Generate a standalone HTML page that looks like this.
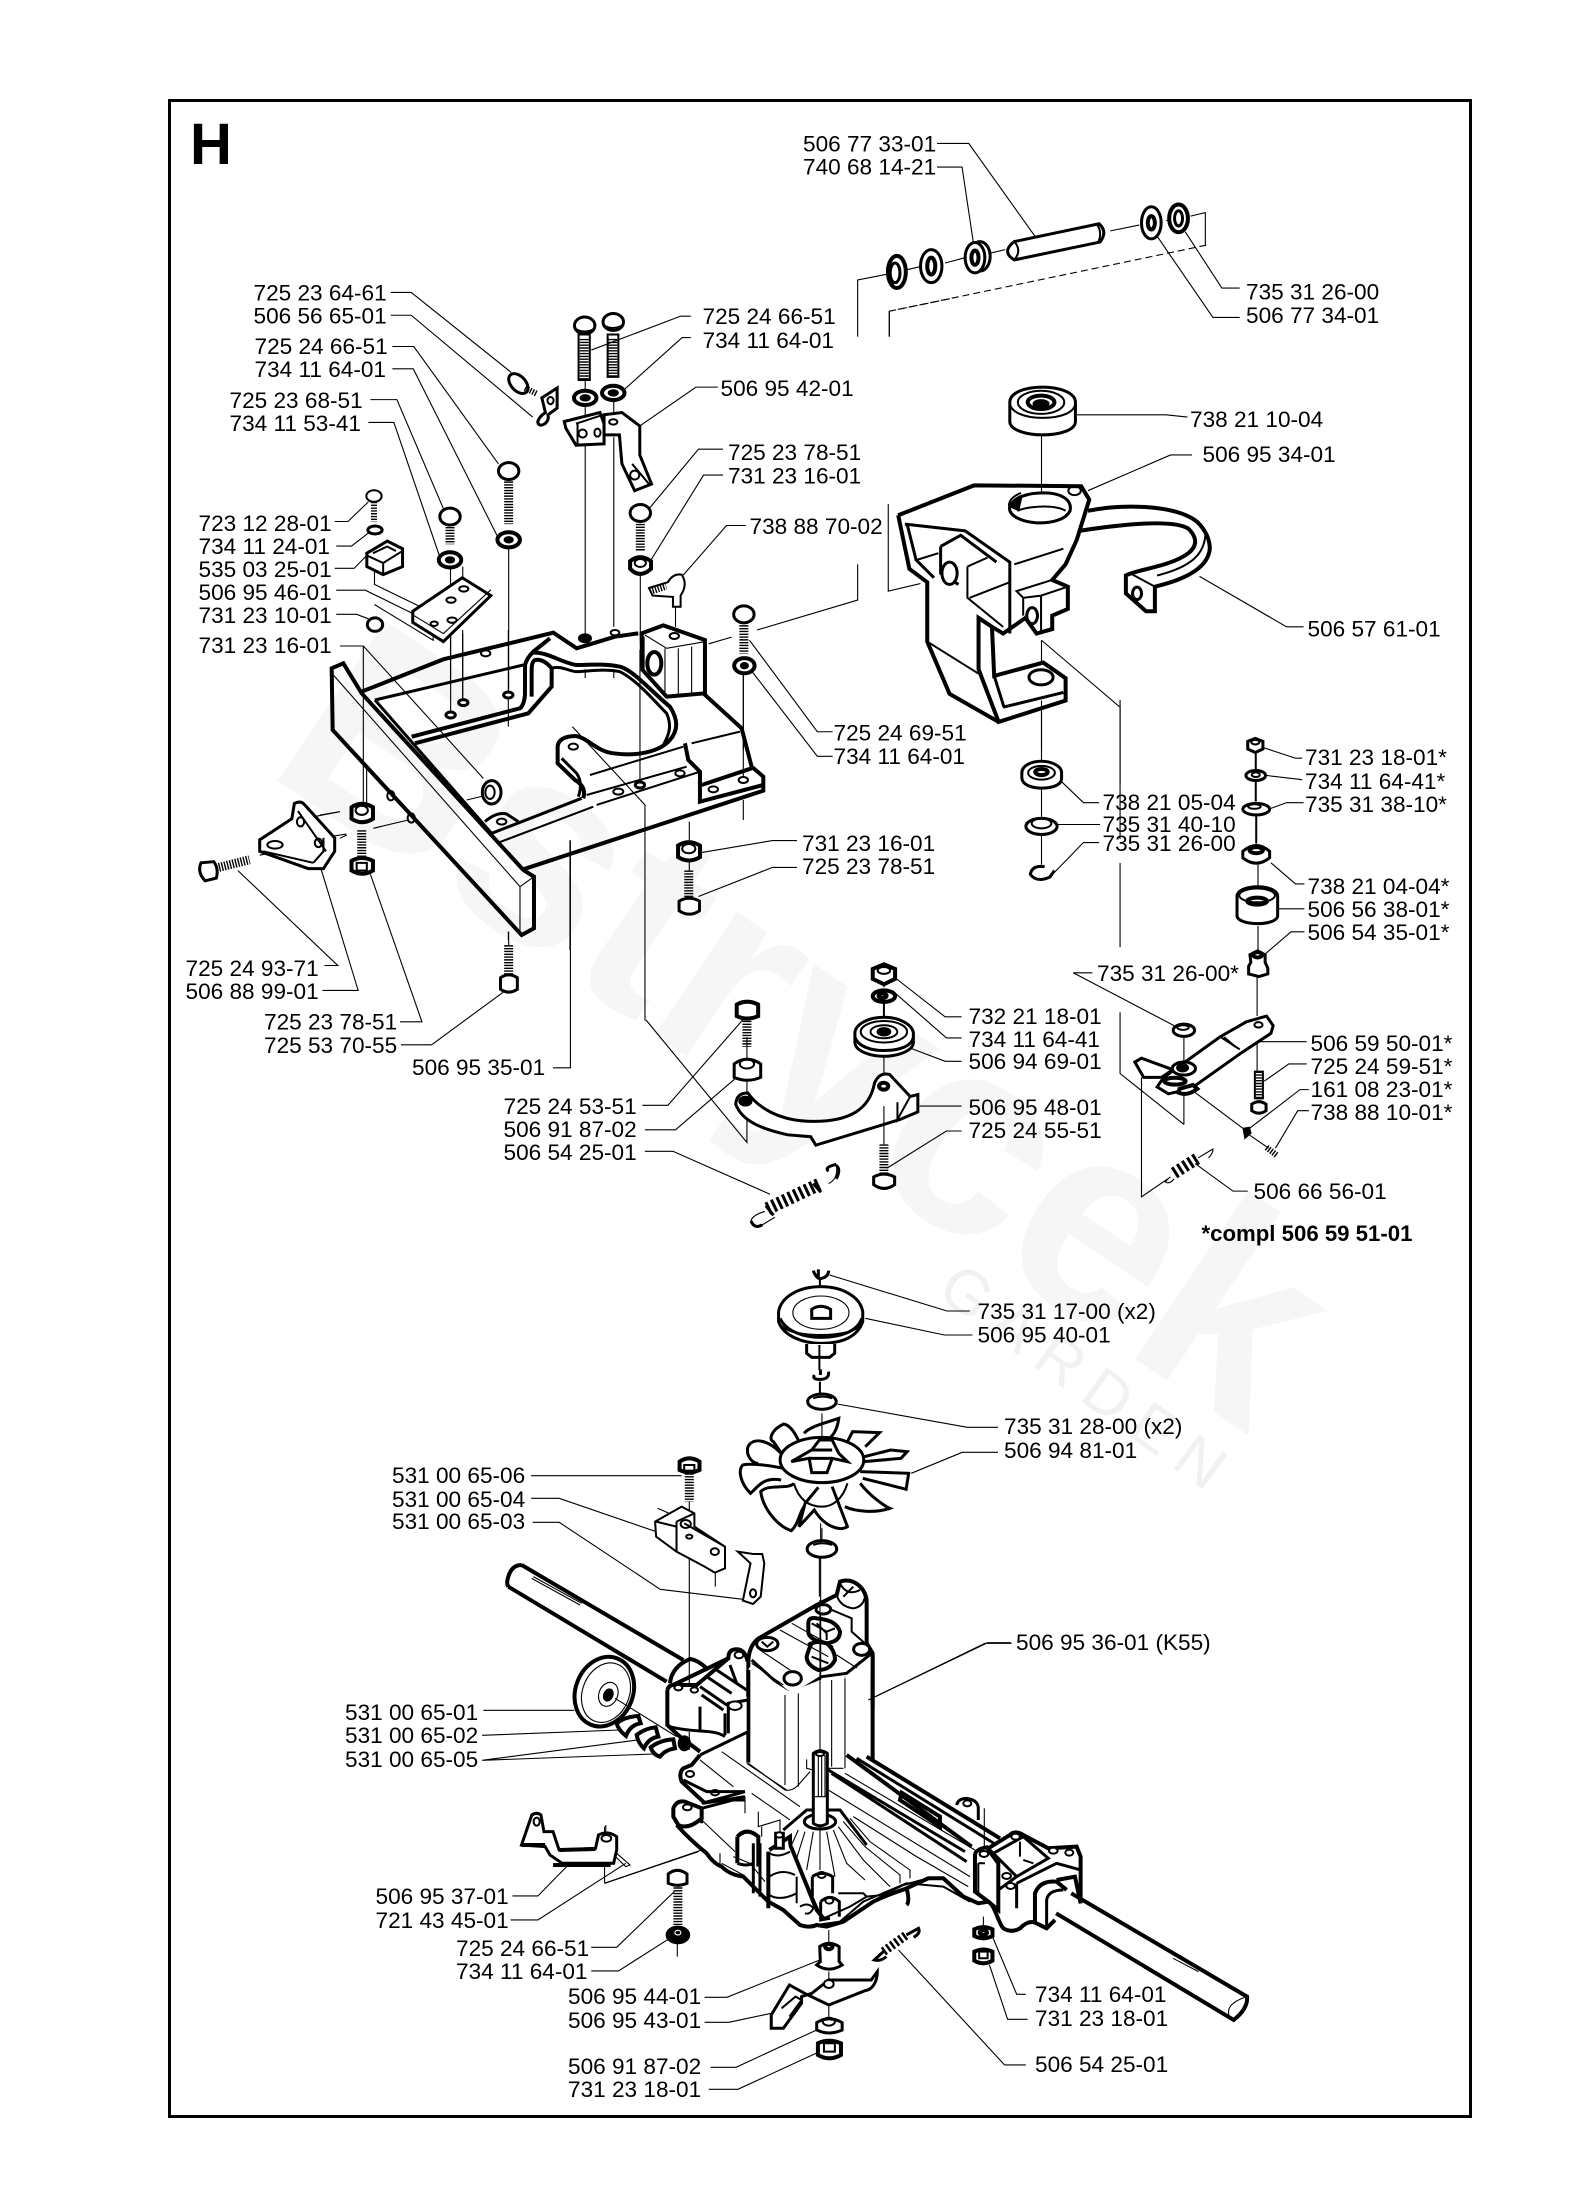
<!DOCTYPE html>
<html><head><meta charset="utf-8"><style>
html,body{margin:0;padding:0;background:#fff}
svg{display:block}
svg *{vector-effect:non-scaling-stroke}
svg{font-family:"Liberation Sans",sans-serif}
.L text{font-size:22.6px;fill:#000}
.L{font-size:22.6px}
g.a{fill:none;stroke:#000}
.t{stroke-width:1.1;fill:none}
.m{stroke-width:2;fill:none}
.k{stroke-width:3;fill:none}
.x{stroke-width:4;fill:none}
.w{fill:#fff}
.b{fill:#000}
.h{stroke-width:9;stroke-dasharray:1.4 1.4;fill:none}
.h2{stroke-width:6;stroke-dasharray:1.4 1.4;fill:none}
.d{stroke-dasharray:7 4}
</style></head><body>
<svg width="1572" height="2204" viewBox="0 0 1572 2204" xmlns="http://www.w3.org/2000/svg">
<rect width="1572" height="2204" fill="#fff"/>
<!-- watermark -->
<g fill="#f6f6f6" font-weight="bold">
<text transform="translate(262 770) rotate(34)" font-size="280" textLength="1190" lengthAdjust="spacingAndGlyphs">Bstrycek</text>
</g>
<text transform="translate(935 1295) rotate(36)" font-size="62" fill="#f1f1f1" letter-spacing="14">GARDEN</text>
<rect x="169.5" y="100.5" width="1301" height="2016" fill="none" stroke="#000" stroke-width="3"/>

<!-- frame, C9 coordinates -->
<g class="a" transform="translate(320 630) scale(.3333)">
<path class="x" d="M35 115L70 100L125 190L610 720L642 740V895L605 915L38 300Z"/>
<path class="t" d="M40 135L600 770V915M600 770L642 740"/>
<path class="x" d="M125 185L370 88L700 8L770 55L885 20L955 10"/>
<path class="k" d="M165 210L515 610L785 505M165 210L610 105"/>
<path class="x" d="M275 320L600 235Q612 225 615 195V105Q620 85 640 65L690 25"/>
<path class="x" d="M285 340L625 250L695 170V115Q670 85 645 90Q635 95 635 120V200"/>
<path class="x" d="M640 68C680 65 730 100 770 105C800 105 850 100 900 110C940 120 1000 190 1050 230C1075 270 1075 300 1050 330C1020 365 950 380 880 370C830 365 800 320 765 318Q715 320 713 350V400L765 450Q800 470 790 505"/>
<path class="k" d="M695 115C720 105 750 125 770 125C800 125 850 115 900 125C950 150 1000 210 1040 250C1055 285 1050 310 1030 345"/>
<path class="k" d="M725 385L770 430Q790 460 775 500M495 575Q530 545 560 552L595 575"/>
<ellipse class="m" cx="760" cy="350" rx="14" ry="9"/><ellipse class="m" cx="545" cy="575" rx="14" ry="9"/>
<ellipse class="m" cx="895" cy="485" rx="15" ry="9"/><ellipse class="k" cx="960" cy="465" rx="14" ry="9"/><ellipse class="m" cx="1080" cy="430" rx="14" ry="9"/><ellipse class="m" cx="1180" cy="478" rx="14" ry="9"/><ellipse class="m" cx="1270" cy="450" rx="14" ry="9"/>
<ellipse class="k" cx="392" cy="255" rx="14" ry="9"/><ellipse class="k" cx="430" cy="218" rx="14" ry="9"/><ellipse class="k" cx="565" cy="195" rx="14" ry="9"/><ellipse class="m" cx="497" cy="70" rx="14" ry="9"/><ellipse class="x b" cx="795" cy="25" rx="15" ry="9"/><ellipse class="m" cx="885" cy="8" rx="13" ry="8"/>
<!-- rear -->
<path class="x" d="M1150 190L1265 295L1295 410L1330 440V482L610 718"/>
<path class="x" d="M1095 340L1105 390L1140 425V515L1330 465M1145 465L1295 415"/>
<path class="m" d="M1115 340L1260 305M810 435L1090 350M800 495L1100 410M830 525L1140 425M530 640L820 530"/>
<!-- block -->
<path class="x w" d="M965 10L1030 -14L1155 30L1155 190L1040 200L968 120Z"/>
<path class="t" d="M1035 55V200M1075 55V195M1115 50V190M975 15L1040 55L1155 35"/>
<path class="x" d="M968 20V110"/>
<ellipse class="x w" cx="1003" cy="100" rx="21" ry="34"/>
<ellipse class="m" cx="1063" cy="18" rx="14" ry="9"/>
<!-- nut -->
<ellipse class="k w" cx="515" cy="487" rx="28" ry="35"/><ellipse class="m" cx="510" cy="487" rx="14" ry="20"/>
<!-- lines -->
<path class="t" d="M392 0V245M428 0V210M565 0V185M565 205V290M960 60V455M1270 125V440M1270 510V570M130 50V520M140 410V520M60 48H130L490 445M440 510L490 498M757 290L975 525V1172M750 630V960M1108 575V630M565 905V930M0 555L60 545M160 595L265 570M60 625L80 615"/>
</g>

<!-- axle / disc, C10 coordinates -->
<g class="a" transform="translate(490 1560) scale(.3333)">
<path class="x" d="M95 15L580 300M55 80L530 365M95 15Q65 15 55 50Q48 70 55 80"/>
<path class="t" d="M130 50L275 130M125 55L270 135"/>
<path class="x" d="M540 370Q545 320 600 297Q625 300 655 330"/>
<ellipse class="x w" cx="343" cy="395" rx="86" ry="107" transform="rotate(22 343 395)"/>
<ellipse class="t" cx="348" cy="398" rx="70" ry="92" transform="rotate(22 348 398)"/>
<ellipse class="t" cx="355" cy="403" rx="28" ry="37" transform="rotate(22 355 403)"/>
<ellipse class="b" cx="355" cy="405" rx="14" ry="19" transform="rotate(22 355 405)"/>
<path class="t" d="M375 415L560 530"/>
<path class="x w" d="M380 490Q405 470 445 468L452 490Q420 495 408 528Q385 510 380 490Z"/>
<path class="x w" d="M440 525Q465 505 497 502L505 530Q475 535 462 565Q445 550 440 525Z"/>
<path class="x w" d="M482 562Q510 540 550 538L555 565Q525 570 510 590Q490 585 482 562Z"/>
<ellipse class="x b" cx="583" cy="550" rx="14" ry="18"/>
</g>

<!-- C1 region -->
<g class="a" transform="translate(150 80) scale(.5102 .4464)">
<!-- assembly lines -->
<path class="t" d="M853 670V700M853 730V1240M853 1320V1340M909 715V745M909 800V1225M909 1320V1340M589 1090V1350M613 1090V1115M613 1240V1385M703 1045V1365M961 1110V1290M1030 1170V1225M1163 1325V1500"/>
<path class="t" d="M440 1100V1130L530 1180M440 1175L555 1255V1240"/>
<path class="t" d="M1387 575V448L1445 435M1449 575V518M1447 950V1145L1510 1128M1387 1085V1165L1190 1232M1140 1248L1095 1263"/>
<path class="t d" d="M1449 518L1568 490"/>

<!-- leaders -->
<path class="t" d="M472 476H512L708 655M472 527H512L750 755M475 597H517L683 860M475 647H516L680 1020M432 716H484L575 960M428 767H478L567 1065M362 989H388L428 945M365 1044H395L428 1015M362 1094H400L425 1065M365 1143H422L515 1195M365 1197H405L428 1207M1060 529H1040L865 605M1060 577H1043L928 695M1113 688H1070L960 775M1123 827H1075L980 958M1123 885H1085L982 1075M1168 998H1130L1043 1112M1338 1460H1308L1175 1255M1338 1515H1308L1180 1325"/>

<!-- screw & clip -->
<ellipse class="k w" cx="722" cy="680" rx="15" ry="25" transform="rotate(-35 722 680)"/>
<path class="h2" d="M735 690L758 703"/>
<path class="k w" d="M768 712L798 690V735L780 750C785 770 760 782 760 765C762 758 768 750 775 745Z"/>
<ellipse class="m" cx="785" cy="718" rx="6" ry="8"/>
<!-- top bolts -->
<path class="m" d="M840 570H862V672H840ZM897 570H918V665H897Z"/>
<path class="h" d="M851 580V672M907 580V665"/>
<ellipse class="k w" cx="852" cy="550" rx="20" ry="19"/><ellipse class="k w" cx="908" cy="542" rx="20" ry="19"/>
<path class="m" d="M832 556C845 566 860 566 872 556M888 548C900 558 915 558 928 548"/>
<ellipse class="x w" cx="853" cy="712" rx="22" ry="16"/><ellipse class="m b" cx="853" cy="712" rx="9" ry="6"/>
<ellipse class="x w" cx="908" cy="701" rx="22" ry="16"/><ellipse class="m b" cx="908" cy="701" rx="9" ry="6"/>
<!-- bracket 42-01 -->
<path class="k w" d="M812 765L882 745L890 770V815L835 818L815 780Z"/>
<path class="k w" d="M890 750L925 745L960 775V840L983 905L950 920L925 860L920 795L890 795Z"/>
<path class="m" d="M835 770L888 750M838 770V815M945 860L978 905"/>
<ellipse class="m" cx="848" cy="792" rx="8" ry="9"/><ellipse class="m" cx="877" cy="790" rx="6" ry="9"/><ellipse class="m" cx="908" cy="766" rx="8" ry="6"/><ellipse class="m" cx="950" cy="885" rx="9" ry="10"/>
<!-- 723 -->
<ellipse class="m w" cx="439" cy="932" rx="15" ry="13"/><path class="h2" d="M439 945V990"/>
<ellipse class="k w" cx="441" cy="1008" rx="14" ry="9"/>
<path class="k w" d="M425 1060L465 1033L495 1050V1090L457 1108L425 1090Z"/>
<path class="m" d="M425 1065L457 1082L495 1055M457 1082V1108M437 1060L465 1045L482 1055"/>
<ellipse class="k w" cx="441" cy="1220" rx="15" ry="15"/>
<path class="k w" d="M515 1190L612 1115L668 1155L575 1258L515 1215Z"/>
<path class="t" d="M515 1198L575 1240L668 1142"/>
<ellipse class="m" cx="615" cy="1140" rx="9" ry="6"/><ellipse class="m" cx="590" cy="1165" rx="9" ry="6"/><ellipse class="m" cx="592" cy="1210" rx="9" ry="6"/><ellipse class="m" cx="557" cy="1218" rx="7" ry="5"/>
<!-- 68-51 -->
<path class="h" d="M588 995V1040"/><ellipse class="k w" cx="588" cy="978" rx="20" ry="19"/>
<ellipse class="x w" cx="588" cy="1075" rx="22" ry="17"/><ellipse class="m b" cx="588" cy="1075" rx="8" ry="6"/>
<!-- 66-51 left -->
<path class="h" d="M703 893V995"/><ellipse class="k w" cx="703" cy="876" rx="20" ry="19"/>
<ellipse class="x w" cx="703" cy="1030" rx="22" ry="17"/><ellipse class="m b" cx="703" cy="1030" rx="8" ry="6"/>
<!-- 78-51 -->
<path class="h" d="M961 988V1055"/><ellipse class="k w" cx="961" cy="970" rx="20" ry="19"/>
<path class="x w" d="M941 1078Q960 1060 982 1078V1095Q960 1118 941 1095Z"/><ellipse class="m" cx="961" cy="1082" rx="11" ry="9"/>
<!-- grease nipple -->
<path class="m w" d="M978 1138L1015 1125Q1025 1105 1042 1108Q1055 1130 1040 1155V1180H1025V1158L985 1155Z"/>
<path class="h2" d="M985 1145L1012 1135"/>
<!-- 69-51 -->
<path class="h" d="M1164 1215V1285"/><ellipse class="k w" cx="1164" cy="1197" rx="20" ry="19"/>
<ellipse class="x w" cx="1165" cy="1312" rx="20" ry="17"/><ellipse class="m b" cx="1165" cy="1312" rx="7" ry="6"/>
</g>

<!-- C2 region -->
<g class="a" transform="translate(800 80) scale(.4464 .4464)">
<path class="t" d="M307 142H378L537 365M307 195H363L388 362M863 340L945 466H985M800 350L925 532H985M618 750H820L868 755M645 920L830 840H878M895 1112L1090 1225H1128"/>
<path class="t" d="M240 425L270 418M325 410L370 398M425 388L460 380M695 338L760 325M820 315L830 313M875 305L908 297V370"/>
<path class="t d" d="M910 370L200 518"/>
<path class="t" d="M200 518V575M541 795V975M541 1255V1305M541 1390V1500M541 1255L717 1405V1700"/>
<!-- circlips/washers -->
<ellipse class="x" cx="217" cy="430" rx="20" ry="36"/><ellipse class="k" cx="213" cy="432" rx="11" ry="22"/>
<ellipse class="k" cx="294" cy="417" rx="24" ry="37"/><ellipse class="x" cx="294" cy="417" rx="9" ry="19"/>
<ellipse class="k w" cx="403" cy="395" rx="23" ry="33"/><ellipse class="k w" cx="392" cy="398" rx="22" ry="34"/><ellipse class="x" cx="392" cy="398" rx="8" ry="16"/>
<path class="k w" d="M480 362L670 322Q690 340 672 363L480 403Q450 385 480 362Z"/>
<path class="m" d="M480 362Q498 382 480 403M665 323Q678 342 668 363"/>
<ellipse class="k w" cx="787" cy="320" rx="22" ry="36"/><ellipse class="x" cx="787" cy="320" rx="8" ry="15"/>
<ellipse class="x" cx="848" cy="310" rx="21" ry="31"/><ellipse class="k" cx="848" cy="310" rx="9" ry="17"/>
<!-- bearing -->
<path class="k w" d="M470 722V765C470 785 510 795 543 795C580 795 617 785 617 765V722C617 700 580 688 543 688C505 688 470 700 470 722Z"/>
<path class="m" d="M470 722C470 745 505 757 543 757C585 757 617 745 617 722"/>
<ellipse class="m" cx="540" cy="722" rx="52" ry="26"/><ellipse class="x" cx="540" cy="722" rx="30" ry="15"/><ellipse class="b" cx="540" cy="725" rx="18" ry="9"/>
<!-- main bracket -->
<path class="x" d="M220 975L390 908L630 910L648 940L620 1030L595 1085L565 1120L600 1135V1185L565 1200V1230L530 1240L505 1205L455 1240L430 1225L400 1205V1320L445 1438L595 1390V1340L545 1305L435 1335L430 1225"/>
<path class="x" d="M220 975L245 1095L285 1125V1258L335 1375L445 1438"/>
<path class="k" d="M235 995L370 1010L470 1080V1240"/>
<path class="k" d="M240 995L260 1075L300 1115M315 1045L360 1020L440 1080M315 1045V1105L355 1130"/>
<path class="m" d="M375 1090V1160L455 1225M380 1160L470 1125M480 1085L590 1050M262 1075L310 1060M375 1090L420 1070M285 1258L400 1330"/>
<ellipse class="k w" cx="335" cy="1105" rx="17" ry="25"/>
<path class="k w" d="M470 955C480 935 510 925 545 925C585 925 610 940 605 965C595 985 565 993 530 992C495 990 465 975 470 955Z"/>
<path class="m" d="M487 965C510 955 570 950 595 965M495 925C470 935 465 950 470 958"/>
<path class="b" d="M468 955Q478 935 498 930L490 965Z"/>
<ellipse class="m" cx="615" cy="920" rx="14" ry="10"/>
<path class="m" d="M485 1145L565 1120L600 1135L540 1155L500 1160ZM500 1160V1200M540 1155V1235"/>
<ellipse class="k" cx="520" cy="1200" rx="12" ry="18"/>
<ellipse class="k" cx="540" cy="1338" rx="27" ry="17"/>
<path class="k" d="M455 1405L590 1372M435 1335L457 1405"/>
<!-- strap -->
<path class="x" d="M645 965C720 950 840 950 890 990C910 1010 918 1030 918 1050C915 1085 880 1115 795 1135V1190L775 1190L730 1150V1110C760 1095 830 1090 870 1060C895 1040 885 1020 870 1005C830 980 690 1000 625 1010"/>
<path class="m" d="M745 1108L795 1135M908 1020C905 1060 880 1090 800 1110"/>
<ellipse class="k" cx="755" cy="1150" rx="10" ry="14"/>
</g>

<!-- C3 region -->
<g class="a" transform="translate(150 700) scale(.5102 .3831)">
<path class="t" d="M342 693H368L172 445M338 758H408L335 440M490 840H533L432 455M492 900H552L695 760M790 960H824V368M965 1058H1015L1165 830M970 1122H1030L1150 985M970 1178H1025L1215 1290M1268 367H1220L1082 398M1268 437H1220L1075 513"/>
<path class="t" d="M972 835L1170 1155V1060M320 305L370 292M360 355L385 350M215 405L330 375M703 605V640M1057 420V445M1170 990V1030M1170 880V935"/>
<!-- bracket 88-99 -->
<path class="k w" d="M283 270Q295 262 302 272L362 360V395L340 440L310 440L215 395V365L278 310Z"/>
<path class="m" d="M290 290L345 395M222 395L320 425M320 425L340 395V360"/>
<ellipse class="m" cx="245" cy="378" rx="15" ry="10"/><ellipse class="m" cx="295" cy="318" rx="7" ry="12"/><ellipse class="m" cx="330" cy="373" rx="7" ry="11"/>
<path class="h" d="M135 437L195 417"/>
<path class="k w" d="M100 425L125 422Q135 440 130 465L108 472Q92 450 100 425Z"/>
<!-- nut+bolt -->
<path class="x w" d="M395 280Q415 262 437 280V310Q415 328 395 310Z"/><ellipse class="m" cx="415" cy="288" rx="12" ry="12"/>
<path class="h" d="M415 340V412"/>
<path class="x w" d="M395 420Q415 405 437 420V445Q415 462 395 445Z"/><path class="m" d="M405 425H425V445H405Z"/>
<ellipse class="m" cx="512" cy="308" rx="7" ry="12"/><ellipse class="m" cx="472" cy="250" rx="7" ry="12"/>
<path class="h" d="M703 640V720"/>
<path class="k w" d="M687 725Q703 710 720 725V755Q703 770 687 755Z"/>
<path class="x w" d="M1035 380Q1056 362 1078 380V410Q1056 428 1035 410Z"/><ellipse class="m" cx="1056" cy="388" rx="13" ry="12"/>
<path class="h" d="M1056 445V520"/>
<path class="k w" d="M1037 525Q1057 510 1077 525V550Q1057 568 1037 550Z"/>
<!-- 53-51 bolt + spacer -->
<path class="h" d="M1170 830V905"/><path class="x w" d="M1150 795Q1170 780 1192 795V825Q1170 838 1150 825Z"/>
<path class="k w" d="M1145 950Q1170 925 1197 950V985Q1170 1000 1145 985Z"/><ellipse class="m" cx="1170" cy="950" rx="14" ry="12"/>
<!-- arm 48-01 -->
<path class="k w" d="M1148 1055Q1150 1025 1172 1026C1190 1060 1230 1100 1300 1100C1370 1100 1410 1070 1420 1000Q1430 970 1450 978L1490 1035L1505 1030V1075L1470 1095L1305 1162L1295 1140L1250 1135C1200 1120 1160 1100 1148 1055Z"/>
<path class="m" d="M1465 1050V1095L1490 1035"/>
<ellipse class="x b" cx="1167" cy="1047" rx="10" ry="9"/><ellipse class="x" cx="1438" cy="1008" rx="9" ry="9"/>
<!-- spring -->
<path class="t" d="M1330 1262Q1350 1250 1345 1212M1205 1335Q1180 1345 1178 1360Q1185 1380 1200 1370L1225 1350"/>
<path stroke-width="13" stroke-dasharray="3 3" d="M1210 1328L1315 1262"/>
<path class="k" d="M1345 1212Q1320 1220 1330 1230M1207 1320L1222 1345M1300 1262L1315 1285"/>
<path class="k" d="M1345 1215Q1355 1225 1345 1250M1178 1360Q1185 1382 1200 1370"/>
</g>

<!-- C4 region -->
<g class="a" transform="translate(800 700) scale(.4464 .3831)">
<path class="t" d="M583 210L635 268H670M575 325H672M570 450L635 372H670M541 30V165M541 228V305M541 350V430M717 0V220M717 425V645M717 815V975L860 1108M860 880V945M860 1030V1108M612 712L838 850M612 712H655"/>
<path class="t" d="M1040 125L1110 152H1125M1045 197L1125 208M1055 283L1090 268H1128M1055 425L1110 480H1130M1070 545H1130M1040 665L1100 605H1130M1030 892H1135M1040 995L1095 950H1135M1005 1120L1120 1017H1140M1065 1170L1115 1072H1140M885 1210L970 1282H1003"/>
<path class="t" d="M213 725L325 827H362M213 765L328 882H362M250 910L325 943H362M268 1060H362M195 1222L328 1125H362M188 740V750M188 930V975M188 1060V1160"/>
<path class="t" d="M1024 720V825M1024 885V970M765 985V1297L830 1245M880 1020L1000 1125M1000 1130L1050 1170M1026 430V490M1026 590V655"/>
<path class="m" d="M1021 140V185M1021 210V265M1022 300V375M188 790V830"/>
<!-- 05-04 bearing -->
<path class="k w" d="M497 190V205C500 225 525 230 541 230C560 230 585 225 586 205V190C586 170 560 160 541 160C520 160 497 170 497 190Z"/>
<ellipse class="m" cx="541" cy="190" rx="30" ry="18"/><ellipse class="x" cx="541" cy="188" rx="14" ry="8"/>
<ellipse class="k" cx="541" cy="330" rx="35" ry="21"/><ellipse class="m" cx="541" cy="322" rx="22" ry="13"/>
<path class="k" d="M548 435Q520 430 516 455Q530 478 560 462L570 445"/>
<!-- top stack -->
<path class="k w" d="M1003 108L1020 100L1037 108V128L1020 137L1003 128Z"/><ellipse class="m" cx="1020" cy="110" rx="9" ry="6"/>
<ellipse class="k w" cx="1021" cy="197" rx="22" ry="13"/><ellipse class="m" cx="1021" cy="195" rx="9" ry="6"/>
<ellipse class="k w" cx="1022" cy="285" rx="30" ry="15"/><ellipse class="m" cx="1018" cy="278" rx="14" ry="6"/>
<path class="k w" d="M992 395V412Q1022 440 1052 412V395Q1022 365 992 395Z"/><ellipse class="x" cx="1022" cy="392" rx="15" ry="8"/>
<path class="k w" d="M979 510V565C985 590 1065 590 1070 565V510C1065 480 985 480 979 510Z"/><ellipse class="m" cx="1024" cy="510" rx="40" ry="18"/><ellipse class="x" cx="1024" cy="525" rx="22" ry="9"/>
<path class="k w" d="M1008 665L1025 655L1042 665V685L1048 700V715L1028 722L1005 715V695L1010 685Z"/><ellipse class="x" cx="1025" cy="665" rx="10" ry="7"/>
<!-- arm -->
<path class="k w" d="M750 945L765 935L835 965L810 985L770 985Z"/>
<path class="k w" d="M1000 840L1045 825L1060 850L1055 870L990 920L875 1015L825 1028L800 1010L815 985L940 880Z"/>
<path class="m" d="M940 878L985 912M950 880L975 905"/>
<ellipse class="m" cx="1027" cy="848" rx="9" ry="7"/>
<ellipse class="k w" cx="860" cy="962" rx="26" ry="17"/><ellipse class="x b" cx="857" cy="960" rx="10" ry="7"/>
<ellipse class="x" cx="840" cy="995" rx="24" ry="9"/>
<path class="x w" d="M848 1025Q868 1035 890 1015L880 1005L850 1015Z"/>
<ellipse class="k w" cx="860" cy="862" rx="24" ry="16"/><ellipse class="m" cx="858" cy="855" rx="13" ry="6"/>
<path class="h2" d="M1028 970V1040"/>
<path class="m" d="M1019 970H1037V1040H1019Z"/>
<path class="k w" d="M1012 1055Q1028 1042 1044 1055V1072Q1028 1085 1012 1072Z"/>
<path class="k b" d="M995 1120L1005 1118L1008 1130L998 1140Z"/>
<path class="h2" d="M1045 1168L1070 1190"/>
<!-- spring small -->
<path stroke-width="12" stroke-dasharray="3 3" d="M838 1235L892 1195"/>
<path class="t" d="M825 1250L818 1258Q828 1265 838 1250M892 1195L925 1172Q925 1185 915 1195"/>
<!-- 732 stack -->
<path class="x w" d="M163 702L188 690L213 702V728L188 742L163 728Z"/><ellipse class="m" cx="188" cy="706" rx="14" ry="9"/>
<ellipse class="x w" cx="188" cy="773" rx="25" ry="15"/><ellipse class="x" cx="185" cy="772" rx="9" ry="6"/>
<path class="k w" d="M123 868V895C125 918 160 930 188 930C215 930 252 918 254 895V868C250 845 220 828 188 828C155 828 125 845 123 868Z"/>
<path class="k" d="M123 880C130 905 160 915 188 915C220 915 250 905 254 880"/>
<ellipse class="m" cx="188" cy="866" rx="52" ry="28"/><ellipse class="m" cx="188" cy="866" rx="30" ry="17"/><ellipse class="x b" cx="188" cy="866" rx="12" ry="7"/>
<path class="h" d="M188 1160V1235"/>
<path class="k w" d="M165 1245Q188 1230 212 1245V1265Q188 1285 165 1265Z"/>
</g>

<!-- C5 region -->
<g class="a" transform="translate(350 1250) scale(.5102 .3333)">
<path class="t" d="M940 75L1170 183H1215M1010 205L1165 255H1220M955 462L1210 532H1270M1100 670L1200 607H1270M355 677H650M355 745H410L600 845M358 817H410L608 1018L770 1048M1295 1178H1250L1030 1340"/>
<path class="t" d="M925 490V570M925 835V870M920 925V1040M665 755V1500M603 775L625 790M716 968V1010"/>
<path class="m" d="M921 85V165M920 320V360M921 395V430"/>
<!-- clip -->
<path class="k" d="M908 62Q915 90 925 85Q938 80 938 62M918 58V80"/>
<!-- pulley -->
<path class="k w" d="M840 185V215C850 260 890 280 923 280C965 280 995 260 1005 215V185C1000 140 965 110 923 110C880 110 845 140 840 185Z"/>
<path class="k" d="M843 205C855 245 890 262 923 262C960 262 995 245 1003 205"/>
<path class="m" d="M845 225C860 265 985 265 1000 225"/>
<ellipse class="t" cx="923" cy="188" rx="55" ry="50"/>
<path class="k w" d="M905 178Q922 160 942 178V205H905Z"/>
<path class="k w" d="M895 282V310L905 322H940L950 310V282"/>
<path class="m" d="M920 285V320"/>
<path class="k" d="M910 375Q905 390 925 388Q940 385 938 365M922 358V375"/>
<ellipse class="k" cx="925" cy="455" rx="28" ry="23"/><path class="m" d="M908 445Q925 435 945 445"/>
<!-- fan -->
<g class="k">
<path d="M890 550C900 530 930 520 958 505C955 540 945 570 925 575"/>
<path d="M880 575C870 540 860 525 850 522C825 540 820 570 830 575L850 620"/>
<path d="M975 575L985 545L1038 548L1010 590"/>
<path d="M1008 620L1060 600L1092 605L1080 625L1008 635"/>
<path d="M1000 665L1095 670L1090 718L1005 685"/>
<path d="M1000 700C1020 740 1050 770 1058 775C1030 790 990 785 970 770"/>
<path d="M945 710L975 830C960 845 930 830 910 780L880 830L892 760L918 712"/>
<path d="M870 700C860 720 820 700 805 725C810 780 840 830 865 842C880 820 880 790 890 770"/>
<path d="M845 690C810 680 800 710 785 730C765 700 760 660 770 645C785 640 820 645 850 655"/>
<path d="M845 610C820 570 790 560 780 590C775 620 790 640 800 640"/>
</g>
<ellipse class="k w" cx="925" cy="630" rx="82" ry="68"/>
<path class="k" d="M905 600L920 570H945L958 610L975 635L945 625L935 668H905L900 625L865 635ZM905 600H945M900 625H945"/>
<path class="m" d="M870 700C880 750 900 770 925 770M975 700C965 750 945 770 925 770"/>
<ellipse class="k" cx="925" cy="897" rx="29" ry="25"/><path class="m" d="M908 885Q925 875 945 885"/>
<!-- 65 bolt -->
<path class="h" d="M665 670V755"/><path class="x w" d="M646 635Q665 615 685 635V660Q665 675 646 660Z"/><path class="m" d="M655 645H675V662H655Z"/>
<!-- 65-04 -->
<path class="m w" d="M598 815L650 770L675 790V830L735 890V955L715 968L695 950L640 905L600 860Z"/>
<path class="m" d="M640 815L675 790M640 815V905M655 820L735 890M600 815L640 830"/>
<ellipse class="m" cx="658" cy="822" rx="10" ry="12"/><ellipse class="m" cx="715" cy="905" rx="8" ry="10"/><ellipse class="m" cx="665" cy="860" rx="6" ry="6"/>
<path class="m w" d="M760 905L790 912H808L812 940L805 1040L790 1062L770 1052L785 940Z"/>
<ellipse class="m" cx="790" cy="1030" rx="6" ry="12"/>
</g>

<!-- C8 upper housing -->
<g class="a" transform="translate(680 1500) scale(.3333)">
<path class="x w" d="M215 470Q220 425 245 410L410 315L470 285L480 245Q510 235 535 255L560 290V430L578 460V620H205Z" stroke="none" fill="#fff"/>
<path class="x" d="M205 610V490Q205 430 245 410L410 315L470 285L480 245Q510 235 535 255Q555 270 560 300V430L578 460V620"/>
<path class="k" d="M215 480L315 570Q340 590 370 565L425 530L500 520L575 460"/>
<path class="m" d="M470 285Q480 320 520 325Q550 320 555 290M480 250Q500 290 540 270M490 290L520 260M420 315L515 355V395L555 430"/>
<path class="t" d="M335 370L460 440M300 390L445 470M240 450L330 510M215 490L310 555M470 465L540 510M355 590V620M495 530V620M422 70V130M422 170V620"/>
<path class="x" d="M385 370Q385 350 410 355Q470 360 480 395Q480 425 440 430Q385 420 385 395Z"/>
<path class="m" d="M395 370L440 395L465 385M410 370L440 400V420"/>
<path class="x" d="M385 435Q410 420 440 430Q465 450 465 480Q450 510 415 510Q380 495 380 470Q385 450 395 430"/>
<path class="m" d="M395 470L445 490"/>
<ellipse class="k w" cx="262" cy="432" rx="32" ry="20"/><path class="m" d="M245 425L262 440L280 425"/>
<ellipse class="k w" cx="430" cy="328" rx="22" ry="14"/>
<ellipse class="k w" cx="545" cy="448" rx="24" ry="18"/>
<ellipse class="k w" cx="338" cy="535" rx="26" ry="20"/>
</g>

<!-- C7 transmission -->
<g class="a" transform="translate(650 1600) scale(.3333)">
<!-- tower -->
<path class="x w" d="M295 210V490L410 570Q430 575 440 560L470 530L580 505V465L650 470L665 165V170L585 232L510 240L460 260Q430 280 410 270L300 200Z" stroke="none"/>
<path class="x" d="M295 210V488M668 165V478"/>
<path class="t" d="M405 285V555M445 280V560M585 235V505M545 240V500M655 300L1005 130H1085M295 490L405 570Q425 575 445 555L480 515"/>
<path class="t" d="M470 478V505L490 510M580 505L530 505"/>
<!-- small housing -->
<path class="x" d="M55 262L235 175Q235 150 255 148Q285 145 293 185"/>
<path class="k w" d="M52 270Q58 252 75 255L140 258Q160 280 220 310L240 305L290 290V395L230 420L210 400Q130 395 60 395L52 375Z" stroke="none"/>
<path class="x" d="M52 270Q58 252 75 255H140L235 175M52 270V375L90 410L150 455"/>
<path class="k" d="M150 260L235 318M155 285L220 330M295 300L235 310V400M150 320V390M225 340V405M60 380C130 400 190 385 225 410"/>
<path class="k" d="M170 230L245 280M200 210L290 270M240 195L260 250"/>
<ellipse class="m w" cx="85" cy="263" rx="12" ry="8"/><ellipse class="m w" cx="133" cy="270" rx="11" ry="8"/><ellipse class="m w" cx="267" cy="165" rx="13" ry="10"/><ellipse class="m w" cx="255" cy="317" rx="20" ry="13"/>
<path class="k" d="M150 465L295 395"/>
<!-- body -->
<path class="x" d="M150 465L125 495L100 505Q85 520 95 545L165 610"/>
<path class="k" d="M100 540L170 575L285 575M285 575L155 610M160 610L285 590"/>
<path class="t" d="M150 480L250 560M215 455L450 620M305 580L420 660M290 490L410 570M285 590V640M325 635V680L390 660V700M335 680V710"/>
<ellipse class="m" cx="120" cy="522" rx="12" ry="9"/><ellipse class="m" cx="195" cy="578" rx="12" ry="8"/>
<path class="x" d="M70 625Q80 600 105 605L155 625V655Q115 690 85 675L70 650Z"/>
<path class="k" d="M155 625L250 600L285 600M155 655V670"/>
<ellipse class="m" cx="112" cy="622" rx="13" ry="9"/>
<path class="x" d="M80 675Q120 720 170 760Q190 790 215 800Q240 825 280 830Q320 870 355 905L400 930L450 975Q480 985 500 975L530 980L580 965L670 905C720 880 760 870 770 865Q780 905 770 915M770 865L835 835H880L940 890L985 910L1015 905C1035 915 1045 970 1060 985Q1085 1000 1110 985Q1135 960 1155 968L1190 985L1215 960"/>
<path class="m" d="M510 960L600 920L650 890L700 885L760 855L835 835M500 975L570 965L640 905L710 875L770 850L880 860L960 905"/>
<path class="t" d="M155 660L255 755M210 760V800M215 790L280 825M250 770L300 790L345 845"/>
<!-- cylinders -->
<path class="x" d="M262 710Q290 680 325 710V800M262 710V790"/>
<path class="k" d="M262 790Q290 800 310 790M310 730V880M330 730V890"/>
<path class="x" d="M355 755V925M358 750L420 710Q420 740 425 745L500 930L520 955"/>
<path class="m" d="M358 760Q385 775 420 755M358 830Q395 805 435 825M358 885Q390 905 440 880M440 830V910M420 740L505 930"/>
<path class="k w" d="M377 700H400V745H377Z"/><ellipse class="m w" cx="388" cy="705" rx="11" ry="8"/>
<path class="k" d="M487 830Q515 810 548 830V880M487 830V890"/>
<ellipse class="m" cx="515" cy="825" rx="12" ry="9"/>
<path class="k" d="M512 905Q540 880 568 905V950M512 905V960L540 955"/>
<ellipse class="m" cx="538" cy="902" rx="12" ry="9"/>
<path class="m" d="M565 880H640L650 890M450 920Q475 905 490 925Q480 945 465 940"/>
<!-- stud cone -->
<path class="k" d="M400 690L470 630H570L650 735"/>
<ellipse class="k w" cx="510" cy="665" rx="47" ry="22"/>
<path class="k w" d="M490 460Q510 445 532 460V670Q510 685 490 670Z"/>
<path class="t" d="M505 465V590M515 465V590M525 465V590M490 590H532"/>
<ellipse class="m" cx="510" cy="462" rx="12" ry="6"/>
<path class="t" d="M510 0V450M445 690L420 745M465 695L440 775M490 695L470 810M510 690V810M530 695L555 830M550 690L590 790L645 840M565 680L640 780L720 860M580 665L645 740L750 825L750 850M600 655L660 725L780 810L780 835M610 650L800 770L955 860"/>
<!-- rails -->
<path class="k" d="M535 510L945 755M545 520L950 785"/>
<path class="t" d="M585 520L975 750M535 570L960 830"/>
<path class="x" d="M590 465L965 740M650 470L1050 715"/>
<path class="k" d="M620 475L1040 735"/>
<path class="x" d="M755 578L870 650V680L750 600Z"/>
<path class="k w" d="M920 615Q925 595 950 595Q985 600 985 625V660"/>
<ellipse class="m" cx="952" cy="610" rx="12" ry="9"/>
<path class="t" d="M1003 625V745"/>
<!-- right housing -->
<path class="x" d="M1015 745L1080 705Q1095 690 1120 705L1195 745L1280 740L1292 770V910L1275 830L1220 840"/>
<path class="x" d="M975 760Q985 745 1010 742L1045 790V930L1015 905M975 760V875L1015 905"/>
<path class="k" d="M1015 745L1100 830L1195 775L1120 710L1030 760M1100 830L1045 870"/>
<path class="m" d="M985 790L1005 790M985 790V880M1110 725V770M1120 780L1150 790"/>
<path class="k" d="M1100 850V925M1100 850L1220 790L1292 810"/>
<ellipse class="m w" cx="1002" cy="762" rx="13" ry="9"/><ellipse class="m w" cx="1097" cy="710" rx="13" ry="9"/><ellipse class="m w" cx="1210" cy="752" rx="13" ry="9"/><ellipse class="m w" cx="1258" cy="758" rx="12" ry="9"/><ellipse class="m w" cx="1070" cy="828" rx="13" ry="9"/><ellipse class="m w" cx="1082" cy="858" rx="13" ry="9"/>
<path class="x" d="M1155 970V880Q1170 840 1220 845L1250 870"/>
<path class="k" d="M1190 980V900Q1195 870 1240 870"/>
</g>

<!-- C6 lower parts -->
<g class="a" transform="translate(350 1650) scale(.6061 .3333)">
<!-- right axle -->
<path class="x" d="M1190 730L1480 1040Q1482 1075 1458 1110L1165 790"/>
<path class="t" d="M1480 1040Q1445 1060 1450 1095M1358 925L1400 965"/>
<path class="t" d="M220 181H370M218 256L445 240M218 331L475 270M218 331L500 312M268 738H310L360 645M265 810H310L455 640M420 700V530M420 700L580 600M398 892H440L535 725M398 963H443L525 868M540 920V880M585 1042H622L775 930M585 1117H625L695 1090M595 1252H637L770 1140M592 1318H640L775 1205M1115 1033H1100L1060 860M1118 1108H1085L1055 945M1115 1245H1080L905 900"/>
<path class="t" d="M420 700L575 605M790 840V880M790 965V990M790 1060V1100M1045 800V830"/>
<!-- 37-01 -->
<path class="k w" d="M283 585L300 495Q308 485 315 495L320 545H335L345 600L405 595L410 555Q425 540 440 560V600L435 640H350L330 615L322 590L283 585Z"/>
<path class="x" d="M345 600L405 597M335 645H430M283 585H322"/>
<ellipse class="m" cx="308" cy="515" rx="5" ry="12"/><ellipse class="m" cx="423" cy="565" rx="8" ry="10"/>
<path class="t" d="M422 525V545M440 610L462 645L455 650L438 620"/>
<!-- 66-51 -->
<path class="k w" d="M525 672Q540 650 556 672V700Q540 712 525 700Z"/>
<path class="h" d="M541 712V825"/>
<ellipse class="x b" cx="541" cy="855" rx="17" ry="22"/><ellipse class="t" cx="541" cy="848" rx="5" ry="7" style="stroke:#fff"/>
<!-- pin -->
<path class="k w" d="M775 890Q790 870 807 890V935L812 945Q790 970 770 945L776 935Z"/>
<ellipse class="x" cx="790" cy="890" rx="6" ry="8"/>
<!-- lever 43 -->
<path class="k w" d="M870 965C870 1000 860 1020 850 1022L790 1065L750 1030L725 1005L695 1095V1135H715L745 1060V1040L762 1030L790 990L860 990Z"/>
<ellipse class="m w" cx="790" cy="1002" rx="8" ry="12"/>
<path class="m" d="M712 1075L735 1040L745 1050L725 1100"/>
<path class="k w" d="M770 1118Q790 1095 812 1118V1140Q790 1158 770 1140Z"/><ellipse class="m" cx="790" cy="1115" rx="10" ry="12"/>
<path class="x w" d="M772 1180Q790 1165 810 1180V1215Q790 1235 772 1215Z"/><path class="m" d="M782 1180H800V1205H782Z"/>
<!-- spring -->
<path stroke-width="9" stroke-dasharray="2.5 2.5" d="M880 905L918 855"/>
<path class="k" d="M918 855L938 835Q942 850 930 862M880 905L865 930Q875 935 885 920"/>
<!-- nuts -->
<path class="x" d="M1030 838Q1045 825 1060 838V858Q1045 872 1030 858Z"/><ellipse class="x" cx="1045" cy="848" rx="6" ry="7"/>
<path class="x w" d="M1030 905Q1045 892 1060 905V932Q1045 948 1030 932Z"/><path class="m" d="M1038 905H1052V925H1038Z"/>
</g>

<!-- labels -->
<g class="L">
<text x="190" y="164" font-weight="bold" style="font-size:58px">H</text>
<text x="803" y="151.5">506 77 33-01</text><text x="803" y="174.5">740 68 14-21</text>
<text x="253.5" y="300.5">725 23 64-61</text><text x="253.5" y="323.5">506 56 65-01</text>
<text x="254.5" y="354">725 24 66-51</text><text x="254.5" y="377">734 11 64-01</text>
<text x="229.5" y="408">725 23 68-51</text><text x="229.5" y="431">734 11 53-41</text>
<text x="198.5" y="531">723 12 28-01</text><text x="198.5" y="554">734 11 24-01</text><text x="198.5" y="577">535 03 25-01</text><text x="198.5" y="600">506 95 46-01</text><text x="198.5" y="623">731 23 10-01</text><text x="198.5" y="653">731 23 16-01</text>
<text x="702.5" y="324">725 24 66-51</text><text x="702.5" y="348">734 11 64-01</text><text x="720.5" y="396">506 95 42-01</text>
<text x="728" y="460">725 23 78-51</text><text x="728" y="483.5">731 23 16-01</text><text x="749.5" y="534">738 88 70-02</text>
<text x="833.5" y="740.5">725 24 69-51</text><text x="833.5" y="764">734 11 64-01</text>
<text x="1246" y="299.5">735 31 26-00</text><text x="1246" y="323">506 77 34-01</text>
<text x="1190" y="427">738 21 10-04</text><text x="1202.5" y="462">506 95 34-01</text><text x="1307.5" y="636.5">506 57 61-01</text>
<text x="1305" y="765">731 23 18-01*</text><text x="1305" y="789">734 11 64-41*</text><text x="1305" y="812">735 31 38-10*</text>
<text x="1102.5" y="810">738 21 05-04</text><text x="1102.5" y="832">735 31 40-10</text><text x="1102.5" y="851">735 31 26-00</text>
<text x="802" y="851">731 23 16-01</text><text x="802" y="874">725 23 78-51</text>
<text x="1307.5" y="894">738 21 04-04*</text><text x="1307.5" y="917">506 56 38-01*</text><text x="1307.5" y="940">506 54 35-01*</text>
<text x="1097" y="981">735 31 26-00*</text>
<text x="968.5" y="1024">732 21 18-01</text><text x="968.5" y="1047">734 11 64-41</text><text x="968.5" y="1069">506 94 69-01</text>
<text x="1310.5" y="1051">506 59 50-01*</text><text x="1310.5" y="1074">725 24 59-51*</text><text x="1310.5" y="1097">161 08 23-01*</text><text x="1310.5" y="1120">738 88 10-01*</text>
<text x="968.5" y="1115">506 95 48-01</text><text x="968.5" y="1138">725 24 55-51</text><text x="1253.5" y="1199">506 66 56-01</text>
<text x="1201.5" y="1241" font-weight="bold" style="font-size:22.2px">*compl 506 59 51-01</text>
<text x="185.5" y="976">725 24 93-71</text><text x="185.5" y="999">506 88 99-01</text>
<text x="264" y="1029.5">725 23 78-51</text><text x="264" y="1053">725 53 70-55</text><text x="412" y="1075">506 95 35-01</text>
<text x="503.5" y="1114">725 24 53-51</text><text x="503.5" y="1137">506 91 87-02</text><text x="503.5" y="1160">506 54 25-01</text>
<text x="977.5" y="1319">735 31 17-00 (x2)</text><text x="977.5" y="1342.5">506 95 40-01</text>
<text x="1004" y="1434">735 31 28-00 (x2)</text><text x="1004" y="1458">506 94 81-01</text>
<text x="392" y="1483">531 00 65-06</text><text x="392" y="1507">531 00 65-04</text><text x="392" y="1529">531 00 65-03</text>
<text x="1016" y="1650">506 95 36-01 (K55)</text>
<text x="345" y="1720">531 00 65-01</text><text x="345" y="1743">531 00 65-02</text><text x="345" y="1767">531 00 65-05</text>
<text x="375.5" y="1904">506 95 37-01</text><text x="375.5" y="1928">721 43 45-01</text>
<text x="456" y="1956">725 24 66-51</text><text x="456" y="1979">734 11 64-01</text>
<text x="568" y="2004">506 95 44-01</text><text x="568" y="2028">506 95 43-01</text><text x="568" y="2074">506 91 87-02</text><text x="568" y="2097">731 23 18-01</text>
<text x="1035" y="2002">734 11 64-01</text><text x="1035" y="2026">731 23 18-01</text><text x="1035" y="2072">506 54 25-01</text>
</g>
</svg>
</body></html>
